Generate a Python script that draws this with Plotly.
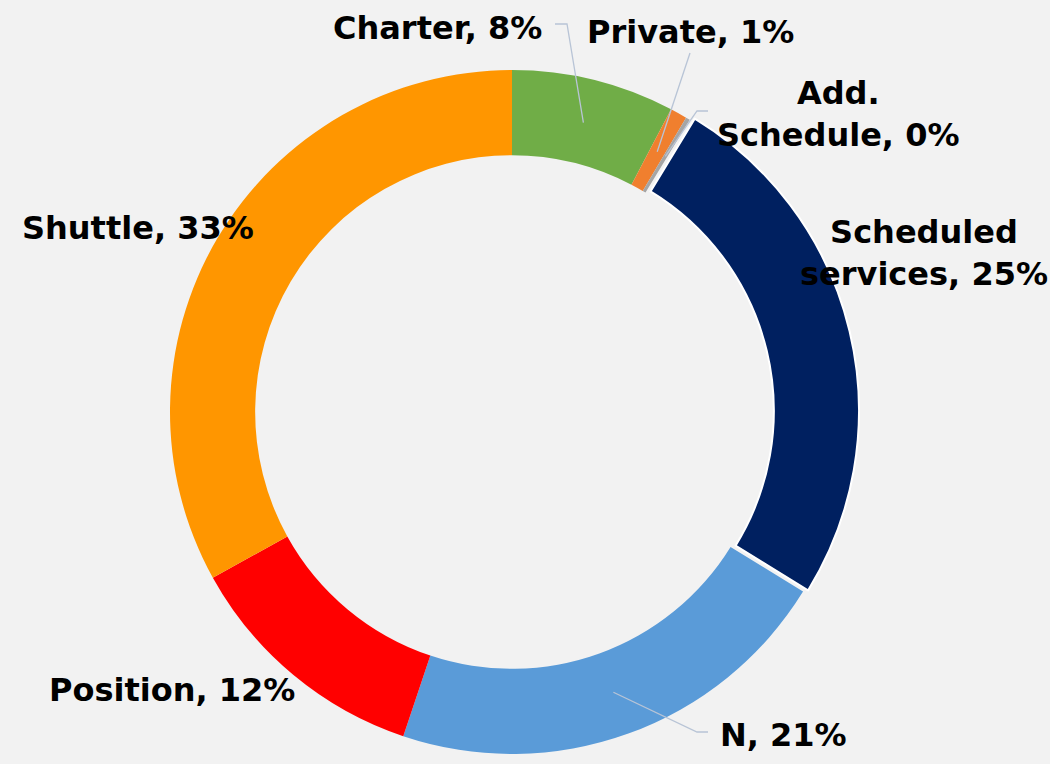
import math
import plotly.graph_objects as go

# ---- data ----
categories = ["Charter", "Private", "Add.<br>Schedule", "Scheduled<br>services", "N", "Position", "Shuttle"]
values = [7.7, 0.8, 0.2, 25.1, 21.35, 11.8, 33.05]
colors = ["#70AD47", "#F07F2E", "#A5A5A5", "#002060", "#5A9BD8", "#FF0000", "#FF9600"]
pulls = [0, 0, 0, 0.015, 0, 0, 0]

# ---- layout constants (pixels) ----
W, H = 1050, 764
CX, CY = 512, 412          # pie centre (from top-left)
R = 342                    # outer radius
HOLE = 0.751
BG = "#F2F2F2"
FONT = dict(family="DejaVu Sans", size=32, color="#000000")
LINE_COLOR = "#B8C4D6"

maxpull = max(pulls)
half = R * (1 + maxpull)
dom_x = [(CX - half) / W, (CX + half) / W]
dom_y = [(H - CY - half) / H, (H - CY + half) / H]

fig = go.Figure(go.Pie(
    labels=categories,
    values=values,
    sort=False,
    direction="clockwise",
    rotation=0,
    hole=HOLE,
    pull=pulls,
    marker=dict(colors=colors,
                line=dict(color="white", width=[0, 0, 0, 2, 0, 0, 0])),
    textinfo="none",
    hoverinfo="label+percent",
    showlegend=False,
    domain=dict(x=dom_x, y=dom_y),
))

# label positions (px centre) and leader-line elbows
label_pos = {
    0: (437, 28),
    1: (690, 32),
    2: (838, 114),
    3: (924, 253),
    4: (783, 735),
    5: (172, 690),
    6: (138, 228),
}
leaders = {  # outer points (label side) for slices that have leader lines
    0: [(555, 24), (567, 24)],
    1: [(690, 53)],
    2: [(708, 111), (697, 111)],
    4: [(708, 732), (697, 732)],
}

total = sum(values)
def px(x, y):
    return x / W, 1 - y / H

cum = 0
annotations = []
shapes = []
for i, (cat, v) in enumerate(zip(categories, values)):
    mid = (cum + v / 2) / total * 2 * math.pi
    cum += v
    pct = round(v / total * 100)
    txt = f"<b>{cat}, {pct}%</b>"
    lx, ly = label_pos[i]
    ax, ay = px(lx, ly)
    annotations.append(dict(x=ax, y=ay, xref="paper", yref="paper", text=txt,
                            showarrow=False, xanchor="center", yanchor="middle",
                            font=FONT, align="center"))
    if i in leaders:
        rr = 298 * (1 + pulls[i])
        ix = CX + rr * math.sin(mid)
        iy = CY - rr * math.cos(mid)
        pts = leaders[i] + [(ix, iy)]
        path = "M " + " L ".join(f"{px(x, y)[0]:.5f},{px(x, y)[1]:.5f}" for x, y in pts)
        shapes.append(dict(type="path", path=path, xref="paper", yref="paper",
                           line=dict(color=LINE_COLOR, width=1.3)))

fig.update_layout(
    width=W, height=H,
    margin=dict(l=0, r=0, t=0, b=0),
    paper_bgcolor=BG, plot_bgcolor=BG,
    annotations=annotations,
    shapes=shapes,
)

fig.write_html(
    "out.html",
    config={"displayModeBar": False},
    post_script="document.body.style.margin='0';document.body.style.overflow='hidden';document.body.style.background='#F2F2F2';",
)
